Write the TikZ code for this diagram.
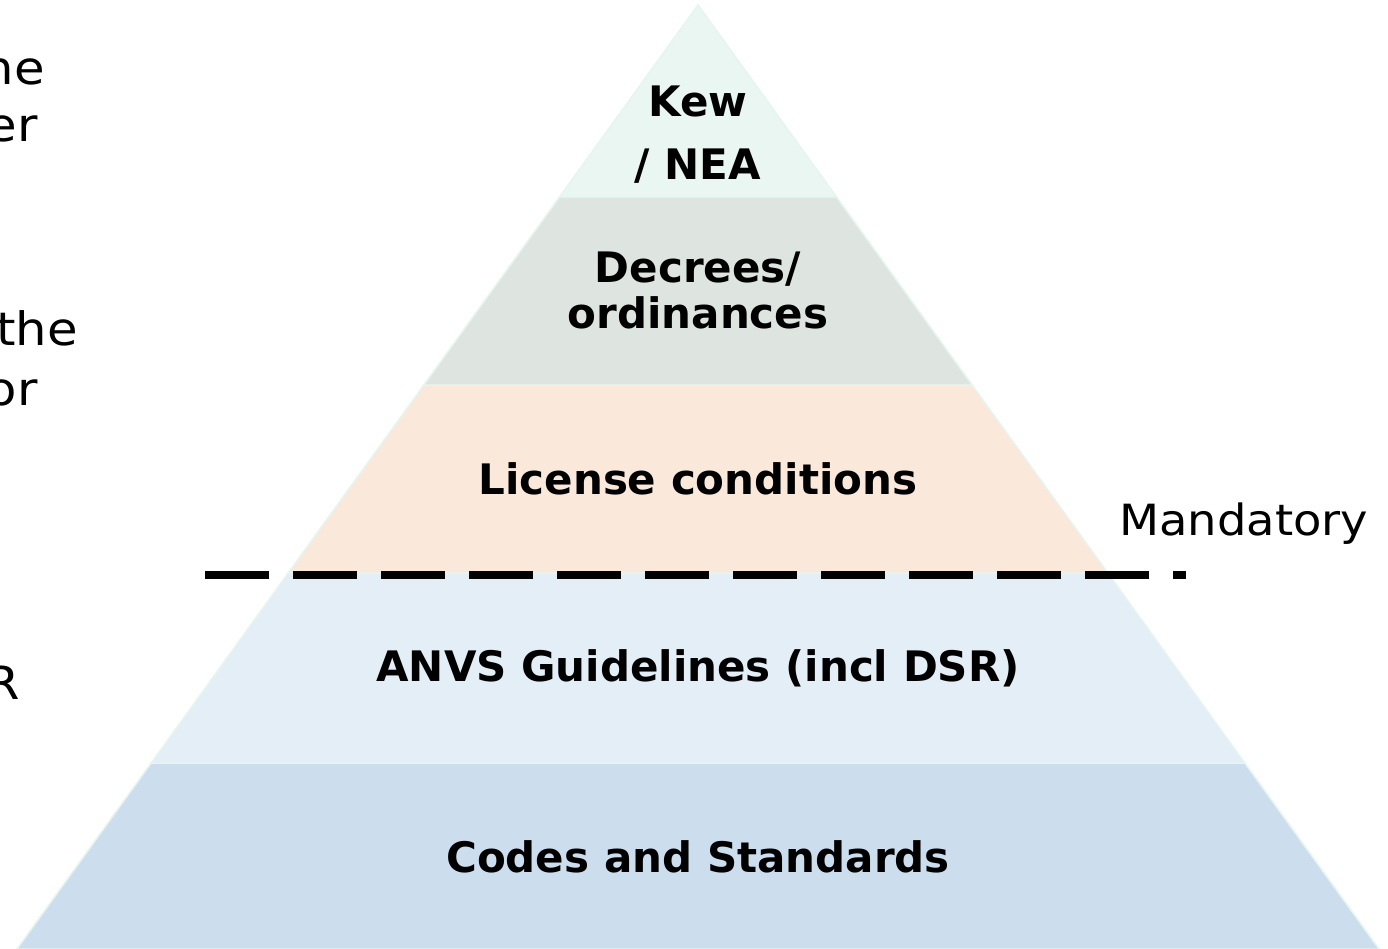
\documentclass[tikz,border=0pt]{standalone}
\usepackage{fontspec}
\setmainfont{DejaVu Sans}
\newfontfamily\widesans[FakeStretch=1.08]{DejaVu Sans}
\definecolor{mint}{HTML}{E6F5EE}
\definecolor{cA}{HTML}{EAF6F1}
\definecolor{cB}{HTML}{DEE5E1}
\definecolor{cC}{HTML}{FAE8DA}
\definecolor{cD}{HTML}{E3EEF7}
\definecolor{cE}{HTML}{CCDEEE}
\tikzset{
  layer/.style={draw=mint, line width=1.5pt, line join=miter},
  lbl/.style={font=\bfseries\fontsize{42}{46}\selectfont, align=center, inner sep=0pt, text=black},
  side/.style={font=\widesans\fontsize{43}{46}\selectfont, inner sep=0pt, anchor=base west},
  frag/.style={font=\widesans\fontsize{46}{56}\selectfont, inner sep=0pt, anchor=base east},
  mand/.style={line width=8pt, dash pattern=on 64pt off 24pt}
}
\begin{document}
\begin{tikzpicture}[x=1pt,y=-1pt]
\clip (0,0) rectangle (1388,949);
\fill[white] (0,0) rectangle (1388,949);
% layers
\path[layer, fill=cE] (17,949) -- (151.2,763) -- (1244.8,763) -- (1379,949) -- cycle;
\path[layer, fill=cD] (151.2,763) -- (288.2,573) -- (1107.8,573) -- (1244.8,763) -- cycle;
\path[layer, fill=cC] (288.2,573) -- (423.9,385) -- (972.1,385) -- (1107.8,573) -- cycle;
\path[layer, fill=cB] (423.9,385) -- (559.5,197) -- (836.5,197) -- (972.1,385) -- cycle;
\path[layer, fill=cA] (559.5,197) -- (698,5) -- (836.5,197) -- cycle;
% labels
\node[lbl] (kew) at (698,101) {Kew};
\node[lbl] (nea) at (698,166) {/ NEA};
\node[lbl] (dec) at (698,290) {Decrees/\\ordinances};
\node[lbl] (lic) at (698,479) {License conditions};
\node[lbl] (anvs) at (698,668) {ANVS Guidelines (incl DSR)};
\node[lbl] (codes) at (698,857) {Codes and Standards};
% mandatory line
\coordinate (ml) at (205,575);
\coordinate (mr) at (1186,575);
\draw[mand] (ml) -- (mr);
\node[side] (mand) at (1119,535) {Mandatory};
% cropped fragments at left
\node[frag] (f1) at (45,85) {he};
\node[frag] (f2) at (38,142) {er};
\node[frag] (f3) at (78,345) {the};
\node[frag] (f4) at (38,405) {or};
\node[frag] (f5) at (20,699) {R};
\end{tikzpicture}
\end{document}
